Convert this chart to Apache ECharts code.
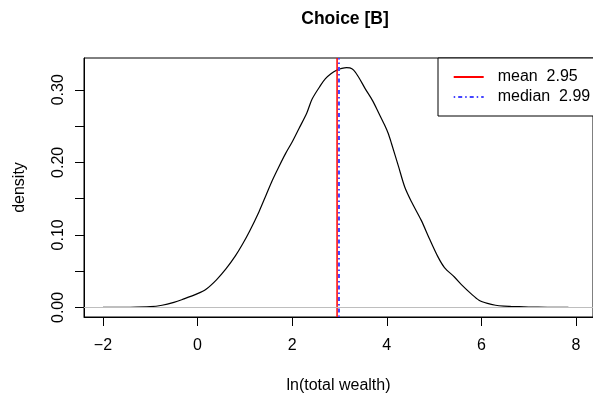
<!DOCTYPE html>
<html>
<head>
<meta charset="utf-8">
<script src="https://cdn.jsdelivr.net/npm/echarts@6/dist/echarts.min.js"></script>
<style>html,body{margin:0;padding:0;background:#fff;}#c{width:593px;height:399px;}</style>
</head>
<body>
<div id="c"></div>
<script>
// Data
const densityX = [-2.0, -1.5, -1.0, -0.75, -0.5, -0.32, 0.0, 0.18, 0.4, 0.6, 0.8, 0.95, 1.1, 1.3, 1.45, 1.58, 1.72, 1.86, 2.0, 2.14, 2.31, 2.42, 2.6, 2.7, 2.82, 2.94, 3.05, 3.15, 3.22, 3.3, 3.4, 3.54, 3.7, 3.83, 3.95, 4.03, 4.1, 4.25, 4.38, 4.52, 4.73, 4.9, 5.08, 5.22, 5.43, 5.6, 5.78, 5.95, 6.13, 6.3, 6.48, 6.62, 6.8, 7.0, 7.4, 7.84];
const densityY = [0.0, 0.0002, 0.001, 0.003, 0.007, 0.011, 0.019, 0.025, 0.038, 0.053, 0.071, 0.087, 0.105, 0.132, 0.155, 0.175, 0.194, 0.212, 0.228, 0.246, 0.268, 0.287, 0.306, 0.315, 0.322, 0.327, 0.3295, 0.3306, 0.3302, 0.327, 0.318, 0.302, 0.285, 0.268, 0.252, 0.240, 0.226, 0.194, 0.166, 0.146, 0.120, 0.095, 0.070, 0.055, 0.042, 0.030, 0.019, 0.010, 0.0055, 0.003, 0.0018, 0.0014, 0.0010, 0.0006, 0.0002, 0.0];
const meanValue = 2.95;
const medianValue = 2.99;
const meanLabel = 'mean  2.95';
const medianLabel = 'median  2.99';
const xTicks = [-2, 0, 2, 4, 6, 8];
const yTicks = [0, 0.05, 0.10, 0.15, 0.20, 0.25, 0.30];
const yLabels = [0, 0.10, 0.20, 0.30];
const xRange = [-2.40, 8.36];
const yRange = [-0.0132, 0.3438];

const FONT = 'Liberation Sans, Arial, Helvetica, sans-serif';
const BASE = 16;
const densityData = densityX.map((x, i) => [x, densityY[i]]);

const chart = echarts.init(document.getElementById('c'), null, {renderer: 'canvas'});
chart.setOption({
  animation: false,
  backgroundColor: '#fff',
  title: {
    text: 'Choice [B]',
    left: 340, top: 5, textAlign: 'center',
    textStyle: {fontFamily: FONT, fontWeight: 'bold', fontSize: 17.5, color: '#000'}
  },
  grid: {left: 84, top: 58, width: 512, height: 260, show: true, borderColor: '#000', borderWidth: 1, backgroundColor: 'transparent'},
  legend: {
    data: [meanLabel, medianLabel],
    orient: 'vertical',
    left: 438, top: 58,
    padding: [11, 40, 11, 14.7],
    itemWidth: 30, itemHeight: 14, itemGap: 4,
    selectedMode: false,
    backgroundColor: '#fff',
    borderColor: '#000', borderWidth: 1,
    itemStyle: {color: 'transparent', borderColor: 'transparent', borderWidth: 0, opacity: 0},
    textStyle: {fontFamily: FONT, fontSize: BASE, color: '#000', padding: [0, 0, 0, 9]}
  },
  xAxis: {
    type: 'value', min: xRange[0], max: xRange[1],
    name: 'ln(total wealth)', nameLocation: 'middle', nameGap: 61,
    nameTextStyle: {fontFamily: FONT, fontSize: BASE, color: '#000'},
    axisLine: {show: true, onZero: false, lineStyle: {color: '#000', width: 1}},
    axisTick: {show: true, length: 9, customValues: xTicks, lineStyle: {color: '#000'}},
    axisLabel: {customValues: xTicks, margin: 21, fontFamily: FONT, fontSize: BASE, color: '#000',
      formatter: v => (v < 0 ? '\u2212' + Math.abs(v) : String(v))},
    splitLine: {show: false}
  },
  yAxis: {
    type: 'value', min: yRange[0], max: yRange[1],
    name: 'density', nameLocation: 'middle', nameGap: 56, nameRotate: 90,
    nameTextStyle: {fontFamily: FONT, fontSize: BASE, color: '#000'},
    axisLine: {show: true, onZero: false, lineStyle: {color: '#000', width: 1}},
    axisTick: {show: true, length: 9, customValues: yTicks, lineStyle: {color: '#000'}},
    axisLabel: {customValues: yLabels, rotate: 90, margin: 17, fontFamily: FONT, fontSize: BASE, color: '#000',
      formatter: v => v.toFixed(2)},
    splitLine: {show: false}
  },
  series: [
    {
      name: 'density', type: 'line', data: densityData, symbol: 'none', smooth: 0.3,
      lineStyle: {color: '#000', width: 1.2}, z: 2,
      markLine: {silent: true, symbol: 'none', label: {show: false},
        lineStyle: {color: '#bebebe', width: 1, type: 'solid'},
        data: [{yAxis: 0}]}
    },
    {
      name: meanLabel, type: 'line', data: [[meanValue, yRange[0]], [meanValue, yRange[1]]],
      symbol: 'none', itemStyle: {color: '#ff0000'},
      lineStyle: {color: '#ff0000', width: 1.5, type: 'solid'}, z: 3
    },
    {
      name: medianLabel, type: 'line', data: [[medianValue, yRange[0]], [medianValue, yRange[1]]],
      symbol: 'none', itemStyle: {color: '#4444ff'},
      lineStyle: {color: '#4444ff', width: 2, type: [1.5, 3, 4, 3]}, z: 4
    }
  ]
});
</script>
</body>
</html>
